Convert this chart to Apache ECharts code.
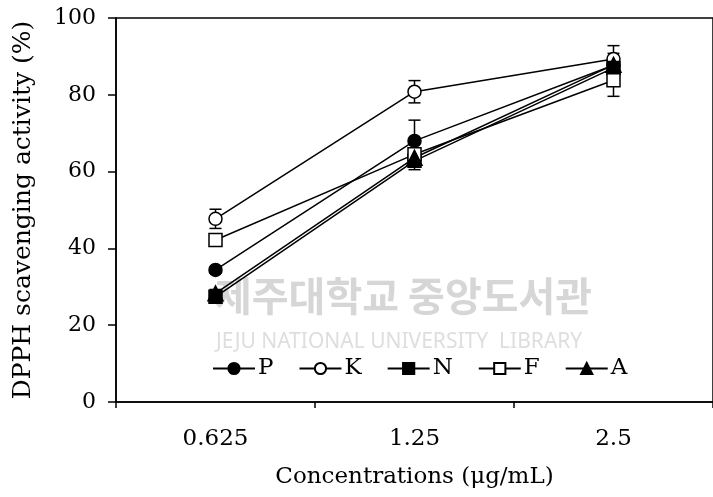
<!DOCTYPE html>
<html><head><meta charset="utf-8">
<script src="https://cdn.jsdelivr.net/npm/echarts@6/dist/echarts.min.js"></script>
<style>html,body{margin:0;padding:0;background:#fff}#c{width:713px;height:497px}</style>
</head><body><div id="c"></div>
<script>
const categories = ['0.625', '1.25', '2.5'];
const seriesNames = ['P', 'K', 'N', 'F', 'A'];
const valP = [34.4, 68.0, 87.7];
const valK = [47.7, 80.8, 89.3];
const valN = [27.4, 62.8, 87.0];
const valF = [42.2, 64.5, 83.8];
const valA = [28.3, 63.6, 87.8];
const errP = [0.8, 5.4, 1.5];
const errK = [2.5, 2.9, 3.5];
const errN = [1.0, 2.3, 2.5];
const errF = [1.0, 1.5, 4.2];
const errA = [1.0, 1.5, 3.0];
const yTicks = [0, 20, 40, 60, 80, 100];

const vals = [valP, valK, valN, valF, valA];
const errs = [errP, errK, errN, errF, errA];
const symbols = ['circle', 'circle', 'rect', 'rect', 'triangle'];
const fills = ['#000', '#fff', '#000', '#fff', '#000'];
const FONT = 'DejaVu Serif';

const chart = echarts.init(document.getElementById('c'));
const series = [];
vals.forEach((v, i) => {
  series.push({
    type: 'custom', name: seriesNames[i] + '_err', silent: true, z: 1,
    data: categories.map((c, j) => [j, v[j] - errs[i][j], v[j] + errs[i][j]]),
    renderItem: function (params, api) {
      const lo = api.coord([api.value(0), api.value(1)]);
      const hi = api.coord([api.value(0), api.value(2)]);
      const w = 6;
      const st = { stroke: '#000', lineWidth: 1.5 };
      return { type: 'group', children: [
        { type: 'line', shape: { x1: lo[0], y1: lo[1], x2: hi[0], y2: hi[1] }, style: st },
        { type: 'line', shape: { x1: lo[0] - w, y1: lo[1], x2: lo[0] + w, y2: lo[1] }, style: st },
        { type: 'line', shape: { x1: hi[0] - w, y1: hi[1], x2: hi[0] + w, y2: hi[1] }, style: st }
      ]};
    }
  });
});
vals.forEach((v, i) => {
  series.push({
    type: 'line', name: seriesNames[i], data: v, z: 3,
    symbol: symbols[i], symbolSize: symbols[i] === 'triangle' ? 15 : 13,
    lineStyle: { color: '#000', width: 1.5 },
    itemStyle: { color: fills[i], borderColor: '#000', borderWidth: 1.5 },
    emphasis: { disabled: true }
  });
});

chart.setOption({
  animation: false,
  backgroundColor: '#fff',
  grid: { left: 116, top: 18, width: 602, height: 384, show: true, borderColor: '#000', borderWidth: 1.5, backgroundColor: 'transparent' },
  graphic: [
    { type: 'text', left: 215, top: 276, z: 0, style: { text: '제주대학교 중앙도서관', font: 'bold 40px "Noto Sans CJK KR"', fill: '#d6d6d6' } },
    { type: 'text', left: 216, top: 332, z: 0, style: { text: 'JEJU NATIONAL UNIVERSITY  LIBRARY', font: '21px "Noto Sans"', fill: '#dedede' } }
  ],
  legend: {
    data: seriesNames, left: 207, top: 352, itemGap: 25, itemWidth: 42, itemHeight: 14,
    textStyle: { fontFamily: FONT, fontSize: 23, color: '#000', padding: [0, 0, 0, -2] }
  },
  xAxis: {
    type: 'category', data: categories, boundaryGap: true,
    name: 'Concentrations (μg/mL)', nameLocation: 'middle', nameGap: 64,
    nameTextStyle: { fontFamily: FONT, fontSize: 23, color: '#000' },
    axisLine: { lineStyle: { color: '#000', width: 1.5 } },
    axisTick: { show: true, length: 6, lineStyle: { color: '#000', width: 1.5 } },
    axisLabel: { fontFamily: FONT, fontSize: 23, color: '#000', margin: 26 },
    splitLine: { show: false }
  },
  yAxis: {
    type: 'value', min: 0, max: 100, interval: 20,
    name: 'DPPH scavenging activity (%)', nameLocation: 'middle', nameGap: 80,
    nameTextStyle: { fontFamily: FONT, fontSize: 25, color: '#000' },
    axisLine: { show: true, lineStyle: { color: '#000', width: 1.5 } },
    axisTick: { show: true, length: 8, lineStyle: { color: '#000', width: 1.5 } },
    axisLabel: { fontFamily: FONT, fontSize: 22, color: '#000', margin: 20,
      formatter: v => yTicks.includes(v) ? String(v) : '' },
    splitLine: { show: false }
  },
  series: series
});
</script></body></html>
